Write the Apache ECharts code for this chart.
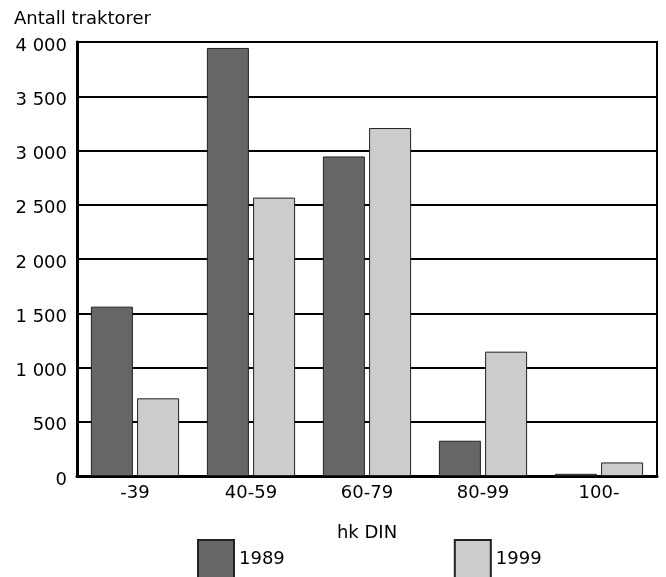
<!DOCTYPE html>
<html>
<head>
<meta charset="utf-8">
<script src="https://cdn.jsdelivr.net/npm/echarts@6/dist/echarts.min.js"></script>
<style>
html,body{margin:0;padding:0;background:#fff;}
#c{width:666px;height:577px;}
</style>
</head>
<body>
<div id="c"></div>
<script>
var categories = ['-39', '40-59', '60-79', '80-99', '100-'];
var values1989 = [1561, 3945, 2945, 325, 20];
var values1999 = [716, 2566, 3207, 1146, 125];
var seriesNames = ['1989', '1999'];
var yTicks = [0, 500, 1000, 1500, 2000, 2500, 3000, 3500, 4000];

var FONT = 'DejaVu Sans';
var FS = 18;
var chart = echarts.init(document.getElementById('c'), null, {renderer: 'canvas'});
chart.setOption({
  animation: false,
  backgroundColor: '#ffffff',
  textStyle: {fontFamily: FONT},
  title: {
    text: 'Antall traktorer',
    left: 14, top: 10, padding: 0,
    textStyle: {fontFamily: FONT, fontSize: FS, fontWeight: 'normal', color: '#000'}
  },
  grid: {
    left: 77, right: 9, top: 42, bottom: 101,
    show: true, borderColor: '#000', borderWidth: 2, backgroundColor: 'transparent'
  },
  legend: {
    data: seriesNames,
    left: 197, top: 539, padding: 0,
    itemWidth: 36, itemHeight: 38, itemGap: 169,
    textStyle: {fontFamily: FONT, fontSize: FS, color: '#000'},
    icon: 'rect'
  },
  xAxis: {
    type: 'category',
    data: categories,
    name: 'hk DIN',
    nameLocation: 'middle',
    nameGap: 48,
    nameTextStyle: {fontFamily: FONT, fontSize: FS, color: '#000'},
    axisLine: {lineStyle: {color: '#000', width: 3}},
    axisTick: {show: false},
    axisLabel: {fontFamily: FONT, fontSize: FS, color: '#000', margin: 8}
  },
  yAxis: {
    type: 'value',
    min: yTicks[0], max: yTicks[yTicks.length - 1], interval: 500,
    axisLine: {show: true, lineStyle: {color: '#000', width: 3}},
    axisTick: {show: false},
    splitLine: {lineStyle: {color: '#000', width: 2}},
    axisLabel: {
      fontFamily: FONT, fontSize: FS, color: '#000', margin: 10,
      verticalAlign: 'top', lineHeight: 8,
      formatter: function (v) { return String(v).replace(/\B(?=(\d{3})+(?!\d))/g, ' '); }
    }
  },
  series: [
    {
      name: seriesNames[0], type: 'bar', data: values1989,
      barWidth: 42, barGap: '10%',
      itemStyle: {color: '#666666', borderColor: '#222', borderWidth: 1}
    },
    {
      name: seriesNames[1], type: 'bar', data: values1999,
      barWidth: 42, barGap: '10%',
      itemStyle: {color: '#cccccc', borderColor: '#222', borderWidth: 1}
    }
  ]
});
</script>
</body>
</html>
